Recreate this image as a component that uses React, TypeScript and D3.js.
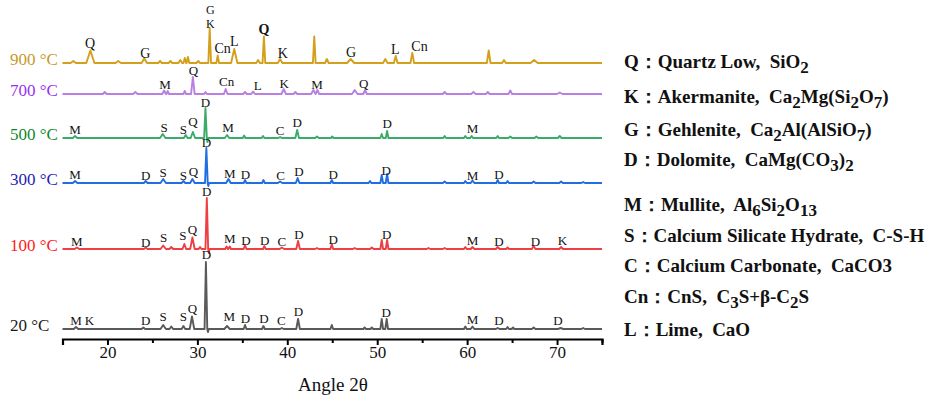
import React, { useEffect, useRef } from "react";
import * as d3 from "d3";

const W = 931;
const H = 408;

// series (bottom to top)
const seriesNames = ["20 °C", "100 °C", "300 °C", "500 °C", "700 °C", "900 °C"];
const offsets = [10, 90, 156, 201, 245, 276];
const lineColors = ["#5a5a5a", "#ee4044", "#1f6fe3", "#3aab6b", "#b97fe2", "#d4a01c"];
const labelColors = ["#1a1a1a", "#ff1a1a", "#1f22b0", "#10882e", "#9b2ef2", "#c49a2a"];

// peaks: [2θ, height, half-width]
const peaks20 = [
  [16.5, 2, 0.25], [24.0, 1.5, 0.2], [26.2, 4, 0.3], [27.1, 2.5, 0.2], [28.45, 3, 0.2],
  [29.4, 12.5, 0.25], [30.95, 67, 0.15], [31.18, -3, 0.08], [33.3, 3, 0.3], [35.3, 4, 0.15],
  [37.35, 3, 0.15], [39.4, 1, 0.2], [41.2, 10, 0.2], [44.95, 4, 0.15], [48.6, 1.5, 0.15],
  [49.4, 1.5, 0.15], [50.5, 10, 0.15], [51.05, 10, 0.15], [59.8, 2.5, 0.15], [60.6, 2.5, 0.2],
  [63.4, 1, 0.2], [64.5, 2, 0.15], [65.1, 1.5, 0.15], [67.4, 1.5, 0.2], [70.4, 1, 0.3], [72.9, 1, 0.2],
];
const peaks100 = [
  [16.6, 1.5, 0.25], [24.25, 1.5, 0.2], [26.2, 3.5, 0.3], [27.1, 2, 0.2], [28.55, 5, 0.2],
  [29.45, 11.5, 0.25], [30.3, 2, 0.15], [31.05, 51, 0.15], [31.28, -4, 0.08], [33.25, 2.5, 0.15],
  [33.6, 2.5, 0.15], [35.3, 4, 0.15], [37.45, 3, 0.15], [39.4, 1.5, 0.25], [41.2, 8, 0.2],
  [43.3, 1, 0.2], [44.95, 5, 0.15], [47.5, 1, 0.2], [49.4, 1.5, 0.2], [50.5, 9, 0.15],
  [51.1, 9, 0.15], [55.7, 1, 0.2], [57.5, 1, 0.2], [59.8, 2, 0.15], [60.6, 2, 0.2],
  [63.4, 2, 0.2], [64.5, 1.5, 0.15], [67.4, 3, 0.2], [70.45, 2, 0.2],
];
const peaks300 = [
  [16.4, 2, 0.25], [24.25, 2, 0.2], [26.2, 4, 0.3], [28.45, 2, 0.2], [29.45, 4, 0.25],
  [31.0, 35, 0.15], [31.22, -3, 0.08], [33.45, 4, 0.25], [35.3, 3, 0.15], [37.35, 3, 0.15],
  [39.2, 1.5, 0.25], [41.15, 5, 0.2], [44.95, 3, 0.15], [49.2, 2, 0.15], [50.5, 8, 0.15],
  [51.1, 9, 0.15], [57.5, 1.5, 0.2], [59.8, 2, 0.15], [60.6, 2.5, 0.2], [63.4, 3, 0.15],
  [64.5, 2, 0.15], [67.4, 1.5, 0.2], [70.45, 1.5, 0.2], [72.9, 1, 0.2],
];
const peaks500 = [
  [16.4, 2, 0.25], [26.15, 4, 0.3], [28.7, 3, 0.2], [29.5, 6, 0.25], [30.9, 30, 0.15],
  [31.12, -4, 0.08], [33.3, 3, 0.25], [35.2, 2.5, 0.15], [37.3, 2, 0.15], [39.2, 1, 0.2],
  [41.1, 8, 0.2], [43.3, 1.5, 0.2], [45.0, 1.5, 0.15], [50.5, 4, 0.15], [51.1, 7, 0.15],
  [57.5, 2, 0.15], [59.8, 2, 0.15], [60.5, 2, 0.15], [63.4, 2, 0.15], [64.8, 1.5, 0.2],
  [67.7, 1.5, 0.2], [70.3, 2, 0.2],
];
const peaks700 = [
  [19.7, 2, 0.2], [23.1, 2, 0.25], [26.3, 3.5, 0.2], [26.7, 3, 0.15], [28.6, 3, 0.15],
  [29.5, 17, 0.2], [30.9, 2, 0.15], [33.15, 5, 0.2], [35.3, 2, 0.2], [36.2, 2.5, 0.2],
  [39.6, 5, 0.25], [40.9, 2, 0.2], [42.9, 4, 0.25], [43.35, 4, 0.2], [47.5, 4, 0.3],
  [48.65, 4, 0.2], [57.5, 2, 0.2], [60.7, 2, 0.25], [62.3, 2, 0.2], [64.8, 3.5, 0.2], [70.3, 1.5, 0.3],
];
const peaks900 = [
  [16.2, 2, 0.3], [18.1, 12.5, 0.45], [21.2, 2, 0.3], [24.1, 4.5, 0.3], [25.85, 2, 0.2],
  [27.0, 2, 0.2], [28.1, 3, 0.2], [28.6, 5, 0.15], [28.95, 6, 0.15], [30.1, 2, 0.2],
  [31.37, 35, 0.15], [32.26, 7.5, 0.15], [34.1, 14, 0.35], [36.75, 3, 0.2], [37.4, 26.5, 0.15],
  [39.2, 4, 0.25], [43.0, 26.5, 0.15], [44.4, 4, 0.2], [47.05, 4, 0.4], [50.9, 4, 0.25],
  [52.06, 7, 0.2], [53.9, 10, 0.2], [62.4, 12.5, 0.2], [64.1, 3, 0.2], [67.45, 3, 0.4],
];
const peakSets = [peaks20, peaks100, peaks300, peaks500, peaks700, peaks900];

// phase labels: [letter, 2θ, height above baseline]
const labels20 = [
  ["M", 16.5, 4.3], ["K", 18.0, 4.3], ["D", 24.25, 3.6], ["S", 26.2, 7.6], ["S", 28.45, 7.6],
  ["Q", 29.45, 16], ["D", 31.0, 70], ["M", 33.55, 8.3], ["D", 35.35, 6], ["D", 37.4, 6],
  ["C", 39.35, 4.3], ["D", 41.25, 12.6], ["D", 51.0, 12], ["M", 60.6, 5.3], ["D", 63.55, 4.3],
  ["D", 70.1, 4.3],
];
const labels100 = [
  ["M", 16.6, 3.3], ["D", 24.25, 2], ["S", 26.25, 7], ["S", 28.4, 9.3], ["Q", 29.45, 15],
  ["D", 31.05, 52.6], ["M", 33.6, 6], ["D", 35.4, 4.3], ["D", 37.5, 4.3], ["C", 39.4, 2.6],
  ["D", 41.3, 10.3], ["D", 45.1, 5.3], ["D", 51.05, 10.3], ["M", 60.6, 3.6], ["D", 63.55, 2.6],
  ["D", 67.6, 2.6], ["K", 70.6, 3.6],
];
const labels300 = [
  ["M", 16.4, 4], ["D", 24.25, 2.6], ["S", 26.2, 5.6], ["S", 28.45, 2.6], ["Q", 29.55, 6.6],
  ["D", 31.0, 36.3], ["M", 33.6, 5], ["D", 35.35, 4], ["C", 39.25, 2.6], ["D", 41.3, 6.6],
  ["D", 45.1, 4], ["D", 51.0, 8.3], ["M", 60.6, 3.3], ["D", 63.55, 4],
];
const labels500 = [
  ["M", 16.4, 3.6], ["S", 26.3, 6], ["S", 28.45, 4.3], ["Q", 29.5, 12], ["D", 30.9, 31],
  ["M", 33.4, 6], ["C", 39.2, 3.3], ["D", 41.1, 11], ["D", 51.1, 10], ["M", 60.6, 5.3],
];
const labels700 = [
  ["M", 26.4, 5], ["Q", 29.55, 19.3], ["Cn", 33.25, 8.3], ["L", 36.7, 4.3], ["K", 39.65, 6],
  ["M", 43.3, 5.3], ["Q", 48.5, 6],
];
const labels900 = [
  ["Q", 18.06, 15], ["G", 24.2, 5], ["K", 31.45, 35.5], ["G", 31.45, 49.5], ["Cn", 32.8, 10],
  ["L", 34.1, 16.6], ["Q", 37.4, 29], ["K", 39.5, 5], ["G", 47.1, 6], ["L", 52.0, 9],
  ["Cn", 54.7, 11.6],
];
const labelSets = [labels20, labels100, labels300, labels500, labels700, labels900];

const majorTicks = [20, 30, 40, 50, 60, 70];
const minorTicks = [15, 25, 35, 45, 55, 65, 75];
const xTitle = "Angle 2θ";

// legend entries: segments [text, subscript?]
const legendEntries: [string, boolean][][] = [
  [["Q：Quartz Low,  SiO", false], ["2", true]],
  [["K：Akermanite,  Ca", false], ["2", true], ["Mg(Si", false], ["2", true], ["O", false], ["7", true], [")", false]],
  [["G：Gehlenite,  Ca", false], ["2", true], ["Al(AlSiO", false], ["7", true], [")", false]],
  [["D：Dolomite,  CaMg(CO", false], ["3", true], [")", false], ["2", true]],
  [["M：Mullite,  Al", false], ["6", true], ["Si", false], ["2", true], ["O", false], ["13", true]],
  [["S：Calcium Silicate Hydrate,  C-S-H", false]],
  [["C：Calcium Carbonate,  CaCO3", false]],
  [["Cn：CnS,  C", false], ["3", true], ["S+β-C", false], ["2", true], ["S", false]],
  [["L：Lime,  CaO", false]],
];
const legendY = [68, 103, 136, 166, 211, 242, 272, 303, 336];

const x = d3.scaleLinear().domain([15, 75]).range([62.5, 602]);
const y = d3.scaleLinear().domain([0, 320]).range([339, 19]);

function buildPoints(peaks: number[][]) {
  const pts: [number, number][] = [[15, 0]];
  const sorted = [...peaks].sort((a, b) => a[0] - b[0]);
  for (const [p, h, w] of sorted) {
    pts.push([p - w, 0], [p, h], [p + w, 0]);
  }
  pts.push([75, 0]);
  return pts;
}

const serif = "'Liberation Serif', 'Times New Roman', serif";

export default function App() {
  const axisRef = useRef<SVGGElement>(null);
  const minorRef = useRef<SVGGElement>(null);

  useEffect(() => {
    if (axisRef.current) {
      const g = d3.select(axisRef.current);
      g.call(
        d3.axisBottom(x).tickValues(majorTicks).tickSize(6).tickSizeOuter(6).tickPadding(1).tickFormat(d3.format("d")) as any
      );
      g.select(".domain").attr("stroke", "#000").attr("stroke-width", 2.2);
      g.selectAll(".tick line").attr("stroke", "#000").attr("stroke-width", 2);
      g.selectAll(".tick text")
        .attr("font-family", serif)
        .attr("font-size", 17)
        .attr("fill", "#111");
    }
    if (minorRef.current) {
      const g = d3.select(minorRef.current);
      g.call(d3.axisBottom(x).tickValues(minorTicks).tickSize(4).tickSizeOuter(0).tickFormat(() => "") as any);
      g.select(".domain").remove();
      g.selectAll(".tick line").attr("stroke", "#000").attr("stroke-width", 2);
    }
  }, []);

  const isStacked = (i: number, l: (string | number)[]) =>
    i === 5 && Math.abs((l[1] as number) - 31.45) < 0.01;

  return (
    <svg width={W} height={H} style={{ display: "block", position: "absolute", left: 0, top: 0, background: "#fff" }}>
      {peakSets.map((peaks, i) => {
        const line = d3
          .line<[number, number]>()
          .x((d) => x(d[0]))
          .y((d) => y(d[1] + offsets[i]));
        return (
          <path
            key={"s" + i}
            d={line(buildPoints(peaks)) || ""}
            fill="none"
            stroke={lineColors[i]}
            strokeWidth={1.9}
            strokeLinejoin="round"
          />
        );
      })}
      {labelSets.map((labels, i) =>
        labels.map((l, j) => (
          <text
            key={"l" + i + "-" + j}
            x={x(l[1] as number)}
            y={y((l[2] as number) + offsets[i])}
            textAnchor="middle"
            fontFamily={serif}
            fontSize={isStacked(i, l) ? 12 : i === 5 ? 14 : 13}
            fontWeight={i === 5 && l[0] === "Q" && (l[1] as number) > 37 ? "bold" : "normal"}
            fill="#111"
          >
            {l[0]}
          </text>
        ))
      )}
      {seriesNames.map((n, i) => (
        <text
          key={"n" + i}
          x={10}
          y={y(offsets[i]) + 1.5}
          fontFamily={serif}
          fontSize={17}
          fill={labelColors[i]}
        >
          {n}
        </text>
      ))}
      <g ref={axisRef} transform={`translate(0,${y(0)})`} />
      <g ref={minorRef} transform={`translate(0,${y(0)})`} />
      <text x={333} y={391} textAnchor="middle" fontFamily={serif} fontSize={19} fill="#111">
        {xTitle}
      </text>
      {legendEntries.map((segs, i) => (
        <text
          key={"lg" + i}
          x={624}
          y={legendY[i]}
          fontFamily={serif}
          fontWeight="bold"
          fontSize={19}
          fill="#111"
          style={{ whiteSpace: "pre" }}
        >
          {segs.map((s, k) => {
            const prevSub = k > 0 && segs[k - 1][1];
            const dy = s[1] ? (prevSub ? 0 : 5) : prevSub ? -5 : 0;
            return (
              <tspan key={k} dy={dy} fontSize={s[1] ? 17 : 19}>
                {s[0]}
              </tspan>
            );
          })}
        </text>
      ))}
    </svg>
  );
}
